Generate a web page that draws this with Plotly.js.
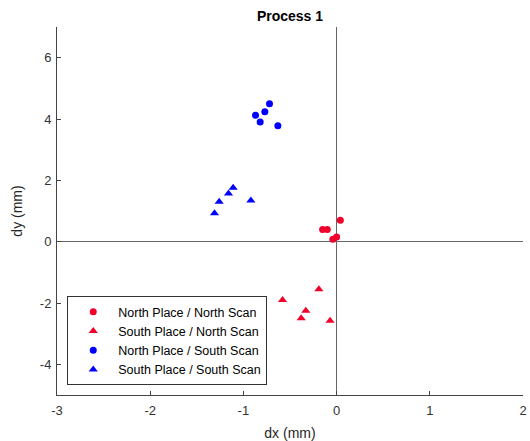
<!DOCTYPE html>
<html>
<head>
<meta charset="utf-8">
<script src="https://cdn.plot.ly/plotly-3.0.1.min.js"></script>
<style>html,body{margin:0;padding:0;background:#fff;}#chart{width:530px;height:441px;}</style>
</head>
<body>
<div id="chart"></div>
<script>
// Series names
const seriesNames = ["North Place / North Scan", "South Place / North Scan", "North Place / South Scan", "South Place / South Scan"];

// North Place / North Scan (red circles)
const nnDx = [0.04, -0.15, -0.10, -0.04, 0.00];
const nnDy = [0.70, 0.40, 0.40, 0.08, 0.15];

// South Place / North Scan (red triangles)
const snDx = [-0.19, -0.58, -0.33, -0.38, -0.07];
const snDy = [-1.55, -1.90, -2.25, -2.50, -2.58];

// North Place / South Scan (blue circles)
const nsDx = [-0.72, -0.77, -0.87, -0.82, -0.63];
const nsDy = [4.50, 4.24, 4.12, 3.90, 3.78];

// South Place / South Scan (blue triangles)
const ssDx = [-1.11, -1.16, -1.26, -1.31, -0.92];
const ssDy = [1.76, 1.57, 1.30, 0.93, 1.34];

const xTicks = [-3, -2, -1, 0, 1, 2];
const yTicks = [-4, -2, 0, 2, 4, 6];

const red = "#f0002a";
const blue = "#0000ff";

const traces = [
  {x: nnDx, y: nnDy, name: seriesNames[0], mode: "markers", type: "scatter",
   marker: {symbol: "circle", size: 7, color: red}},
  {x: snDx, y: snDy, name: seriesNames[1], mode: "markers", type: "scatter",
   marker: {symbol: "triangle-up", size: 8, color: red}},
  {x: nsDx, y: nsDy, name: seriesNames[2], mode: "markers", type: "scatter",
   marker: {symbol: "circle", size: 7, color: blue}},
  {x: ssDx, y: ssDy, name: seriesNames[3], mode: "markers", type: "scatter",
   marker: {symbol: "triangle-up", size: 8, color: blue}}
];

const font = {family: "Liberation Sans, Arial, sans-serif", color: "#262626", size: 13};

const layout = {
  width: 530, height: 441,
  margin: {l: 57, r: 7, t: 27, b: 46},
  paper_bgcolor: "#fff", plot_bgcolor: "#fff",
  font: font,
  showlegend: true,
  title: {text: "<b>Process 1</b>", font: {family: font.family, size: 14, color: "#000"},
          x: 0.5, xref: "paper", xanchor: "center", y: 1, yref: "container", yanchor: "top", pad: {t: 11}},
  xaxis: {
    range: [-3, 2], tickvals: xTicks, ticktext: xTicks.map(String),
    showgrid: false, zeroline: true, zerolinecolor: "#666", zerolinewidth: 1,
    showline: true, linecolor: "#444", linewidth: 1, mirror: false,
    ticks: "inside", ticklen: 4, tickcolor: "#444", ticklabelstandoff: 3,
    tickfont: {size: 13, color: "#333"},
    title: {text: "dx (mm)", font: {size: 14, color: "#262626"}, standoff: 14}
  },
  yaxis: {
    range: [-5, 7], tickvals: yTicks, ticktext: yTicks.map(String),
    showgrid: false, zeroline: true, zerolinecolor: "#666", zerolinewidth: 1,
    showline: true, linecolor: "#444", linewidth: 1, mirror: false,
    ticks: "inside", ticklen: 4, tickcolor: "#444", ticklabelstandoff: 2,
    tickfont: {size: 13, color: "#333"},
    title: {text: "dy (mm)", font: {size: 14, color: "#262626"}, standoff: 13}
  },
  legend: {
    x: 0.022, y: 0.027, xanchor: "left", yanchor: "bottom",
    bgcolor: "#fff", bordercolor: "#333", borderwidth: 1,
    font: {size: 12.5, color: "#000"}, itemwidth: 40, tracegroupgap: 0
  }
};

Plotly.newPlot("chart", traces, layout, {displayModeBar: false, staticPlot: true});
</script>
</body>
</html>
